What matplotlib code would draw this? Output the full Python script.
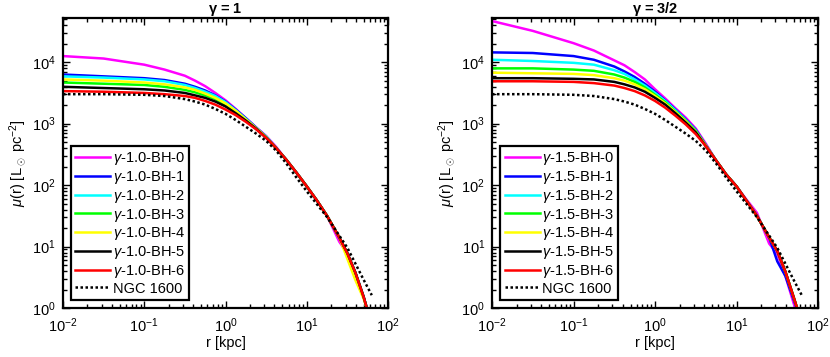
import numpy as np
import matplotlib
matplotlib.use('Agg')
import matplotlib.pyplot as plt

plt.rcParams['font.family'] = ['Liberation Sans', 'DejaVu Sans']
plt.rcParams['mathtext.fontset'] = 'custom'
plt.rcParams['mathtext.rm'] = 'Liberation Sans'
plt.rcParams['mathtext.it'] = 'Liberation Sans:italic'
plt.rcParams['mathtext.bf'] = 'Liberation Sans:bold'

# log10(r / kpc) sample points
log_r = [-2, -1.5, -1, -0.75, -0.5, -0.375, -0.25, -0.125, 0, 0.125, 0.25, 0.375,
         0.5, 0.625, 0.75, 0.875, 1.0, 1.125, 1.25, 1.4, 1.5, 1.6, 1.7, 1.75]
log_r_ngc = [-2, -1.5, -1, -0.75, -0.5, -0.375, -0.25, -0.125, 0, 0.125, 0.25, 0.375,
             0.5, 0.625, 0.75, 0.875, 1.0, 1.125, 1.25, 1.4, 1.5, 1.6, 1.7, 1.8]

# NGC 1600 observed profile, log10 mu
ngc1600 = [3.48, 3.48, 3.47, 3.45, 3.40, 3.36, 3.31, 3.24, 3.16, 3.06, 2.95, 2.84,
           2.72, 2.56, 2.35, 2.12, 1.90, 1.69, 1.48, 1.18, 0.98, 0.72, 0.46, 0.21]

# gamma = 1 models, log10 mu
g1_bh0 = [4.10, 4.06, 3.96, 3.88, 3.78, 3.70, 3.61, 3.50, 3.38, 3.24, 3.09, 2.94,
          2.80, 2.62, 2.41, 2.20, 1.98, 1.75, 1.50, 1.08, 0.89, 0.57, 0.18, -0.05]
g1_bh1 = [3.80, 3.77, 3.74, 3.71, 3.65, 3.60, 3.54, 3.46, 3.36, 3.23, 3.09, 2.94,
          2.79, 2.60, 2.41, 2.20, 1.98, 1.75, 1.50, 1.15, 0.89, 0.57, 0.18, -0.05]
g1_bh2 = [3.77, 3.75, 3.72, 3.69, 3.63, 3.58, 3.52, 3.45, 3.35, 3.22, 3.08, 2.93,
          2.79, 2.60, 2.41, 2.20, 1.98, 1.75, 1.50, 1.15, 0.89, 0.57, 0.18, -0.05]
g1_bh3 = [3.67, 3.65, 3.63, 3.60, 3.55, 3.51, 3.46, 3.40, 3.31, 3.19, 3.06, 2.92,
          2.78, 2.60, 2.41, 2.20, 1.98, 1.75, 1.50, 1.15, 0.89, 0.57, 0.18, -0.05]
g1_bh4 = [3.72, 3.70, 3.67, 3.64, 3.59, 3.55, 3.49, 3.42, 3.33, 3.21, 3.07, 2.93,
          2.78, 2.60, 2.41, 2.20, 1.98, 1.75, 1.50, 1.15, 0.80, 0.45, 0.15, -0.05]
g1_bh5 = [3.60, 3.58, 3.56, 3.54, 3.50, 3.46, 3.42, 3.36, 3.28, 3.17, 3.05, 2.92,
          2.77, 2.60, 2.41, 2.20, 1.98, 1.75, 1.50, 1.15, 0.89, 0.57, 0.18, -0.05]
g1_bh6 = [3.53, 3.52, 3.50, 3.48, 3.45, 3.42, 3.37, 3.31, 3.23, 3.14, 3.03, 2.91,
          2.77, 2.60, 2.41, 2.20, 1.98, 1.75, 1.50, 1.15, 0.89, 0.57, 0.18, -0.05]

# gamma = 3/2 models, log10 mu
g15_bh0 = [4.67, 4.51, 4.31, 4.19, 4.03, 3.95, 3.84, 3.72, 3.56, 3.41, 3.25, 3.10,
           2.92, 2.67, 2.40, 2.17, 1.98, 1.76, 1.55, 1.05, 0.88, 0.52, 0.08, -0.12]
g15_bh1 = [4.16, 4.15, 4.10, 4.04, 3.93, 3.85, 3.76, 3.65, 3.52, 3.38, 3.23, 3.07,
           2.90, 2.65, 2.40, 2.17, 1.98, 1.74, 1.50, 1.15, 0.76, 0.52, 0.14, -0.05]
g15_bh2 = [4.04, 4.02, 3.99, 3.96, 3.87, 3.81, 3.72, 3.62, 3.50, 3.37, 3.22, 3.06,
           2.89, 2.64, 2.40, 2.17, 1.98, 1.74, 1.50, 1.15, 0.93, 0.59, 0.18, -0.03]
g15_bh3 = [3.90, 3.90, 3.88, 3.86, 3.80, 3.75, 3.68, 3.59, 3.47, 3.35, 3.20, 3.05,
           2.88, 2.64, 2.40, 2.17, 1.98, 1.74, 1.50, 1.15, 0.93, 0.59, 0.18, -0.03]
g15_bh4 = [3.83, 3.82, 3.81, 3.79, 3.74, 3.70, 3.64, 3.56, 3.45, 3.33, 3.19, 3.04,
           2.87, 2.64, 2.40, 2.17, 1.98, 1.74, 1.50, 1.15, 0.93, 0.59, 0.18, -0.03]
g15_bh5 = [3.74, 3.74, 3.73, 3.72, 3.68, 3.64, 3.59, 3.52, 3.42, 3.31, 3.17, 3.02,
           2.86, 2.63, 2.40, 2.17, 1.98, 1.74, 1.50, 1.15, 0.93, 0.59, 0.18, -0.03]
g15_bh6 = [3.69, 3.69, 3.68, 3.66, 3.62, 3.58, 3.53, 3.46, 3.37, 3.26, 3.13, 2.99,
           2.83, 2.63, 2.40, 2.17, 1.98, 1.74, 1.50, 1.15, 0.93, 0.59, 0.18, -0.03]

colors = ['#ff00ff', '#0000ff', '#00ffff', '#00ff00', '#ffff00', '#000000', '#ff0000']
panels = [
    ('$\\mathbf{\\gamma}$ = 1', '1.0', [g1_bh0, g1_bh1, g1_bh2, g1_bh3, g1_bh4, g1_bh5, g1_bh6]),
    ('$\\mathbf{\\gamma}$ = 3/2', '1.5', [g15_bh0, g15_bh1, g15_bh2, g15_bh3, g15_bh4, g15_bh5, g15_bh6]),
]

fig = plt.figure(figsize=(8.3, 3.57), dpi=100)
positions = [[0.0759, 0.137, 0.3916, 0.812], [0.5928, 0.137, 0.3928, 0.812]]

for pos, (title, tag, series) in zip(positions, panels):
    ax = fig.add_axes(pos)
    r = 10.0 ** np.array(log_r)
    for i, vals in enumerate(series):
        ax.plot(r, 10.0 ** np.array(vals), color=colors[i], lw=1.8,
                label='$\\gamma$-%s-BH-%d' % (tag, i))
    ax.plot(10.0 ** np.array(log_r_ngc), 10.0 ** np.array(ngc1600), color='black',
            ls=(0, (1, 1)), lw=1.8, label='NGC 1600')
    ax.set_xscale('log')
    ax.set_yscale('log')
    ax.set_xlim(1e-2, 1e2)
    ax.set_ylim(1, 5.2e4)
    ax.set_xticks([1e-2, 1e-1, 1e0, 1e1, 1e2])
    ax.set_yticks([1e0, 1e1, 1e2, 1e3, 1e4])
    ax.tick_params(which='both', direction='in', top=True, right=True, labelsize=10.5, width=1.0)
    ax.tick_params(which='major', length=5)
    ax.tick_params(which='minor', length=3)
    ax.tick_params(axis='x', which='major', pad=6)
    ax.tick_params(axis='y', which='major', pad=5)
    for s in ax.spines.values():
        s.set_linewidth(1.6)
    ax.set_title(title, fontsize=10.5, fontweight='bold', pad=2)
    ax.set_xlabel('r [kpc]', fontsize=10.5, labelpad=1)
    ax.set_ylabel('$\\mu$(r) [L$_\\odot$ pc$^{-2}$]', fontsize=10.5, labelpad=3)
    leg = ax.legend(loc='lower left', bbox_to_anchor=(0.025, 0.028), borderaxespad=0,
                    fontsize=10.5, handlelength=2.4, handletextpad=0.15,
                    labelspacing=0.12, borderpad=0.3, fancybox=False, framealpha=1)
    leg.get_frame().set_edgecolor('black')
    leg.get_frame().set_linewidth(1.6)

fig.savefig('out.png', dpi=100)
